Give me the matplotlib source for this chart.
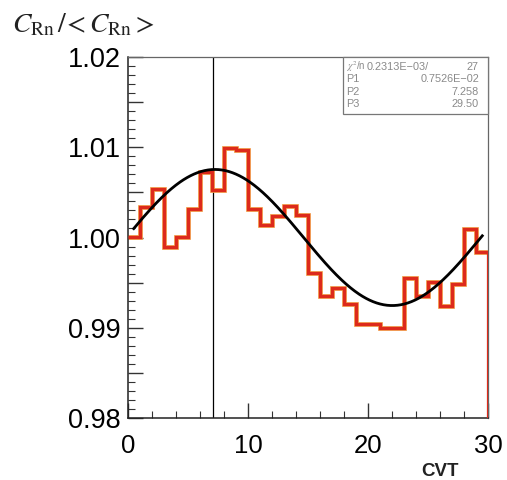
import numpy as np
import matplotlib
matplotlib.use("Agg")
import matplotlib.pyplot as plt
from matplotlib.ticker import MultipleLocator, FuncFormatter

plt.rcParams['font.family'] = ['Liberation Sans', 'DejaVu Sans']
plt.rcParams['mathtext.fontset'] = 'stix'

# ---- data ----
bin_edges = list(range(0, 31))
ratio = [1.0001, 1.0034, 1.0054, 0.9989, 1.0001, 1.0031, 1.0073, 1.0053, 1.0099, 1.0097,
         1.0031, 1.0014, 1.0024, 1.0035, 1.0025, 0.9961, 0.9935, 0.9944, 0.9927, 0.9904,
         0.9904, 0.9900, 0.9900, 0.9955, 0.9935, 0.9951, 0.9924, 0.9949, 1.0009, 0.9984]

# fit parameters (from the stats box)
chi2_text = "0.2313E\u221203/"
ndf_text = "27"
P1 = 0.7526e-02
P2 = 7.258
P3 = 29.50
P_labels = ["P1", "P2", "P3"]
P_texts = ["0.7526E\u221202", "7.258", "29.50"]
fit_range = (0.5, 29.5)
marker_x = 7.1

x_ticks = [0, 10, 20, 30]
y_ticks = [0.98, 0.99, 1.00, 1.01, 1.02]

# ---- figure ----
fig = plt.figure(figsize=(5.07, 4.80), dpi=100)
ax = fig.add_axes([0.2519, 0.1285, 0.7112, 0.7534])
ax.set_xlim(0, 30)
ax.set_ylim(0.98, 1.02)

# histogram
edges = np.array(bin_edges, dtype=float)
vals = np.array(ratio)
ax.stairs(vals, edges, baseline=None, color='#f29a45', lw=3.4, zorder=2)
ax.stairs(vals, edges, baseline=None, color='#dd2a1b', lw=2.3, zorder=3)
ax.vlines(edges[-1], 0.98, vals[-1], color='#dd2a1b', lw=1.6, zorder=3)

# fit curve
xf = np.linspace(fit_range[0], fit_range[1], 400)
yf = 1.0 + P1 * np.cos(2 * np.pi * (xf - P2) / P3)
ax.plot(xf, yf, color='black', lw=2.0, zorder=4)

# vertical marker
ax.axvline(marker_x, color='black', lw=0.9, zorder=1)

# spines
for s in ['left', 'bottom']:
    ax.spines[s].set_color('#222222')
    ax.spines[s].set_linewidth(1.1)
for s in ['top', 'right']:
    ax.spines[s].set_color('#666666')
    ax.spines[s].set_linewidth(0.9)

# ticks
ax.xaxis.set_major_locator(MultipleLocator(10))
ax.xaxis.set_minor_locator(MultipleLocator(2))
ax.yaxis.set_major_locator(MultipleLocator(0.005))
ax.yaxis.set_minor_locator(MultipleLocator(0.001))

def yfmt(v, pos):
    if abs(round(v * 100) - v * 100) < 1e-6:
        return f"{v:.2f}"
    return ""
ax.yaxis.set_major_formatter(FuncFormatter(yfmt))
ax.set_xticks(x_ticks)
ax.set_xticklabels([str(t) for t in x_ticks])

ax.tick_params(axis='both', which='both', direction='in', top=False, right=False,
               color='#333333')
ax.tick_params(axis='y', which='major', length=11, width=1.0, labelsize=19.5, pad=5)
ax.tick_params(axis='y', which='minor', length=5, width=0.8)
ax.tick_params(axis='x', which='major', length=11, width=1.0, labelsize=18.5, pad=11)
ax.tick_params(axis='x', which='minor', length=5, width=0.8)

# axis titles
fig.text(12 / 507, 1 - 32 / 480, r'$C_{\mathrm{Rn}}\,/\!<C_{\mathrm{Rn}}>$',
         fontsize=20, ha='left', va='baseline', color='#222222')
fig.text(440 / 507, 1 - 471 / 480, 'CVT', fontsize=13.5, fontweight='bold',
         ha='center', va='center', color='#222222')

# stats box
bx0, by0 = 0.597, 0.8415
ax.add_patch(plt.Rectangle((bx0, by0), 1 - bx0, 1 - by0, transform=ax.transAxes,
                           facecolor='white', edgecolor='#777777', lw=0.9, zorder=5,
                           clip_on=False))
row_y = [66.7, 79.0, 91.7, 104.3]
xl = (346 - 127.7) / 360.6
xr = (479 - 127.7) / 360.6
def ya(py):
    return (418.3 - py) / 361.6
tcol = '#8a8a8a'
fs = 7.8
ax.text(xl, ya(row_y[0]), r'$\chi^2$/n', transform=ax.transAxes, fontsize=fs - 0.8,
        color=tcol, ha='left', va='center', zorder=6)
ax.text((367 - 127.7) / 360.6, ya(row_y[0]), chi2_text, transform=ax.transAxes,
        fontsize=fs, color=tcol, ha='left', va='center', zorder=6)
ax.text(xr, ya(row_y[0]), ndf_text, transform=ax.transAxes, fontsize=fs,
        color=tcol, ha='right', va='center', zorder=6)
for i in range(3):
    ax.text(xl, ya(row_y[i + 1]), P_labels[i], transform=ax.transAxes, fontsize=fs,
            color=tcol, ha='left', va='center', zorder=6)
    ax.text(xr, ya(row_y[i + 1]), P_texts[i], transform=ax.transAxes, fontsize=fs,
            color=tcol, ha='right', va='center', zorder=6)

fig.savefig('out.png', dpi=100)
